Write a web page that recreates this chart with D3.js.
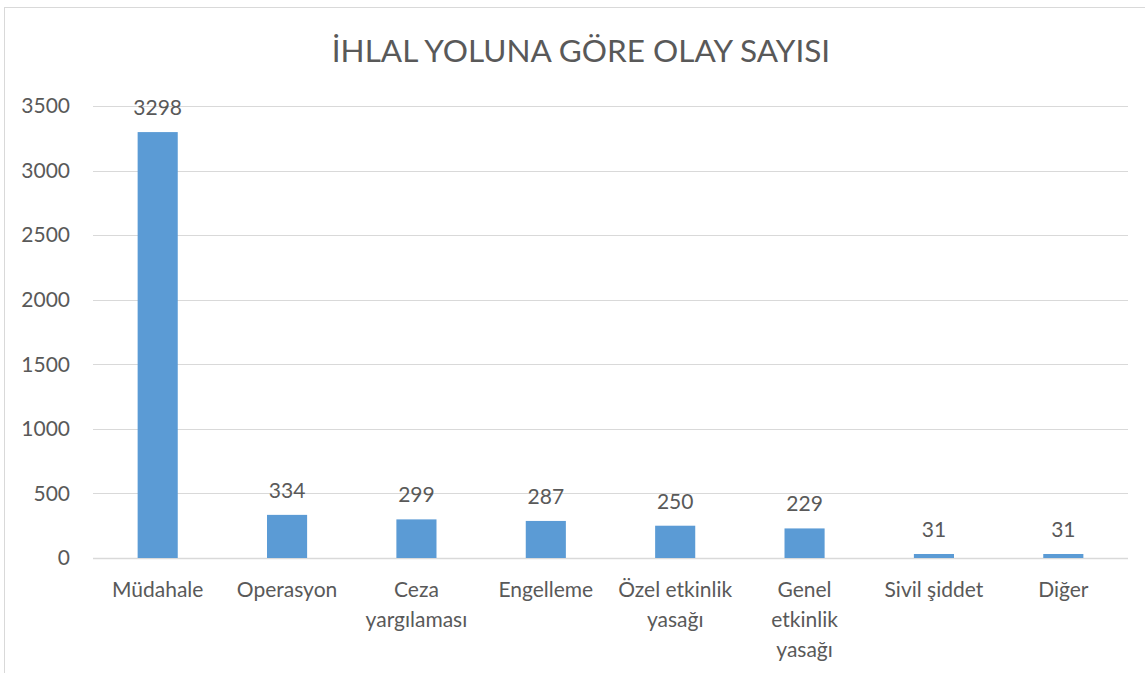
<!DOCTYPE html>
<html>
<head>
<meta charset="utf-8">
<script src="https://cdn.jsdelivr.net/npm/d3@7"></script>
<style>
  body { margin: 0; background: #fff; overflow: hidden; }
  text { font-family: Lato, "Open Sans", sans-serif; fill: #595959; }
</style>
</head>
<body>
<script>
// chart data
const categories = ["Müdahale", "Operasyon", "Ceza\nyargılaması", "Engelleme",
    "Özel etkinlik\nyasağı", "Genel\netkinlik\nyasağı", "Sivil şiddet", "Diğer"];
const values = [3298, 334, 299, 287, 250, 229, 31, 31];
const yTicks = [0, 500, 1000, 1500, 2000, 2500, 3000, 3500];
const title = "İHLAL YOLUNA GÖRE OLAY SAYISI";

const width = 1145, height = 673;
const margin = {top: 106, right: 17, bottom: 115, left: 93};

const svg = d3.select("body").append("svg")
    .attr("width", width)
    .attr("height", height);

// chart border (runs off the right and bottom of the picture)
svg.append("rect")
    .attr("x", 4.5).attr("y", 7.5)
    .attr("width", width + 20).attr("height", height + 20)
    .attr("fill", "none")
    .attr("stroke", "#d9d9d9");

const x = d3.scaleBand()
    .domain(categories)
    .range([margin.left, width - margin.right])
    .paddingInner(0.69)
    .paddingOuter(0.345);

const band = d3.scaleBand()
    .domain(categories)
    .range([margin.left, width - margin.right]);

const y = d3.scaleLinear()
    .domain([0, 3500])
    .range([height - margin.bottom, margin.top]);

// gridlines
svg.append("g")
    .selectAll("line")
    .data(yTicks)
    .join("line")
    .attr("x1", margin.left)
    .attr("x2", width - margin.right)
    .attr("y1", d => Math.round(y(d)) + 0.5)
    .attr("y2", d => Math.round(y(d)) + 0.5)
    .attr("stroke", "#d9d9d9")
    .attr("stroke-width", d => d === 0 ? 1.5 : 1);

// y axis labels
svg.append("g")
    .selectAll("text")
    .data(yTicks)
    .join("text")
    .attr("x", 70)
    .attr("y", d => y(d))
    .attr("dy", "0.35em")
    .attr("text-anchor", "end")
    .style("font-size", "21px")
    .text(d => d);

// bars
svg.append("g")
    .selectAll("rect")
    .data(values)
    .join("rect")
    .attr("x", (d, i) => x(categories[i]))
    .attr("y", d => y(d))
    .attr("width", x.bandwidth())
    .attr("height", d => y(0) - y(d))
    .attr("fill", "#5b9bd5");

// value labels
svg.append("g")
    .selectAll("text")
    .data(values)
    .join("text")
    .attr("x", (d, i) => x(categories[i]) + x.bandwidth() / 2)
    .attr("y", d => y(d) - 17)
    .attr("text-anchor", "middle")
    .style("font-size", "21px")
    .text(d => d);

// category labels
const catLabels = svg.append("g")
    .selectAll("text")
    .data(categories)
    .join("text")
    .attr("x", d => band(d) + band.bandwidth() / 2)
    .attr("y", 597)
    .attr("text-anchor", "middle")
    .style("font-size", "21px");

catLabels.selectAll("tspan")
    .data(d => d.split("\n"))
    .join("tspan")
    .attr("x", function () { return d3.select(this.parentNode).attr("x"); })
    .attr("dy", (d, i) => i === 0 ? 0 : 30)
    .text(d => d);

// title
svg.append("text")
    .attr("x", 581)
    .attr("y", 62)
    .attr("text-anchor", "middle")
    .style("font-size", "31.5px")
    .text(title);
</script>
</body>
</html>
